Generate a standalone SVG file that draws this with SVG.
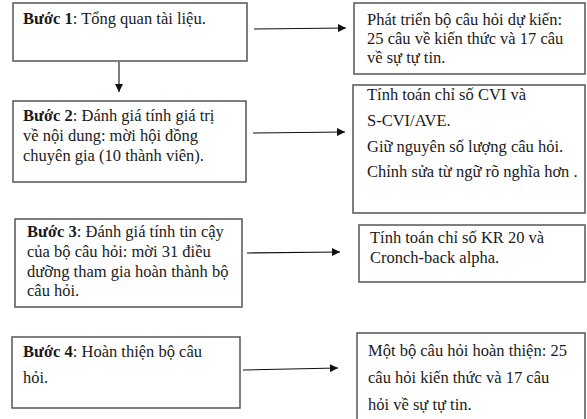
<svg xmlns="http://www.w3.org/2000/svg" width="587" height="419" viewBox="0 0 587 419">
<style>
.box{fill:#fff;stroke:#555;stroke-width:1.5}
.t{font-family:"Liberation Serif","Times New Roman",serif;font-size:16.5px;fill:#1a1a1a}
.b{font-weight:bold}
.c{stroke:#111;stroke-width:1.1;fill:none;marker-end:url(#ah)}
</style>
<defs>
<marker id="ah" viewBox="0 0 10 10" refX="10" refY="5" markerWidth="8" markerHeight="8" markerUnits="userSpaceOnUse" orient="auto">
<path d="M0,0 L10,5 L0,10 z" fill="#111"/>
</marker>
</defs>
<rect width="587" height="419" fill="#fff"/>
<g id="connectors">
<line class="c" x1="254" y1="29" x2="346" y2="28"/>
<line class="c" x1="119" y1="62" x2="119" y2="92"/>
<line class="c" x1="253" y1="133" x2="345" y2="132"/>
<line class="c" x1="247" y1="253" x2="340" y2="252"/>
<line class="c" x1="243" y1="370" x2="338" y2="368"/>
</g>
<g id="step1">
<rect class="box" x="13" y="3" width="234" height="58"/>
<text class="t" x="23" y="24"><tspan class="b">Bước 1</tspan>: Tổng quan tài liệu.</text>
</g>
<g id="result1">
<rect class="box" x="354" y="3" width="231" height="71"/>
<text class="t" x="367" y="25">Phát triển bộ câu hỏi dự kiến:</text>
<text class="t" x="367" y="44">25 câu về kiến thức và 17 câu</text>
<text class="t" x="367" y="63">về sự tự tin.</text>
</g>
<g id="step2">
<rect class="box" x="13" y="101" width="233" height="81"/>
<text class="t" x="23" y="121"><tspan class="b">Bước 2</tspan>: Đánh giá tính giá trị</text>
<text class="t" x="23" y="141">về nội dung: mời hội đồng</text>
<text class="t" x="23" y="161">chuyên gia (10 thành viên).</text>
</g>
<g id="result2">
<rect class="box" x="353" y="85" width="232" height="128"/>
<text class="t" x="367" y="100">Tính toán chỉ số CVI và</text>
<text class="t" x="367" y="126">S-CVI/AVE.</text>
<text class="t" x="367" y="152">Giữ nguyên số lượng câu hỏi.</text>
<text class="t" x="367" y="177">Chỉnh sửa từ ngữ rõ nghĩa hơn .</text>
</g>
<g id="step3">
<rect class="box" x="15" y="219" width="227" height="88"/>
<text class="t" x="27" y="237"><tspan class="b">Bước 3</tspan>: Đánh giá tính tin cậy</text>
<text class="t" x="27" y="257">của bộ câu hỏi: mời 31 điều</text>
<text class="t" x="27" y="277">dưỡng tham gia hoàn thành bộ</text>
<text class="t" x="27" y="296">câu hỏi.</text>
</g>
<g id="result3">
<rect class="box" x="359" y="225" width="226" height="57"/>
<text class="t" x="370" y="243">Tính toán chỉ số KR 20 và</text>
<text class="t" x="370" y="263">Cronch-back alpha.</text>
</g>
<g id="step4">
<rect class="box" x="12" y="337" width="228" height="71"/>
<text class="t" x="23" y="357"><tspan class="b">Bước 4</tspan>: Hoàn thiện bộ câu</text>
<text class="t" x="23" y="383">hỏi.</text>
</g>
<g id="result4">
<rect class="box" x="357" y="333" width="228" height="90"/>
<text class="t" x="368" y="356">Một bộ câu hỏi hoàn thiện: 25</text>
<text class="t" x="368" y="383">câu hỏi kiến thức và 17 câu</text>
<text class="t" x="368" y="410">hỏi về sự tự tin.</text>
</g>
</svg>
